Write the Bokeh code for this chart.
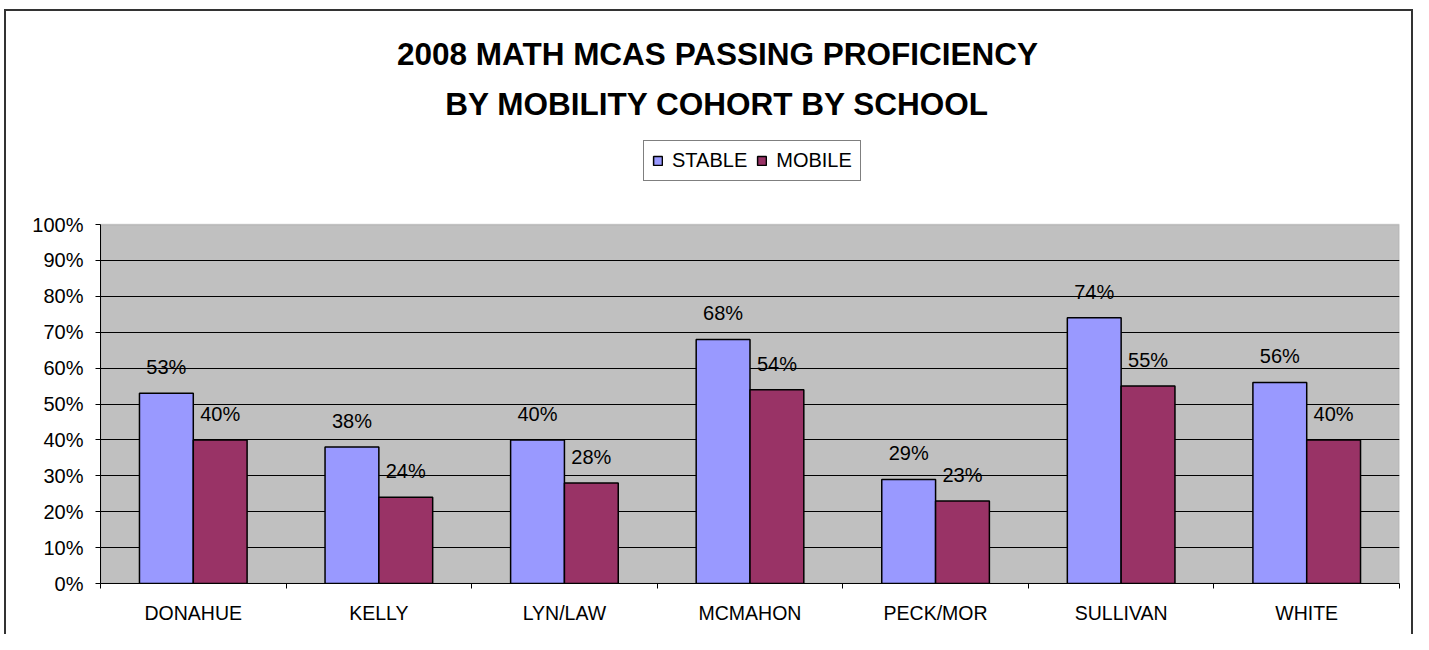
from bokeh.plotting import figure
from bokeh.models import (ColumnDataSource, FixedTicker, LabelSet, Label, Legend,
                          LegendItem, Range1d, BoxAnnotation)
from bokeh.core.properties import value
from bokeh.embed import file_html
from bokeh.resources import INLINE

schools = ["DONAHUE", "KELLY", "LYN/LAW", "MCMAHON", "PECK/MOR", "SULLIVAN", "WHITE"]
stable = [53, 38, 40, 68, 29, 74, 56]
mobile = [40, 24, 28, 54, 23, 55, 40]
y_ticks = [0, 10, 20, 30, 40, 50, 60, 70, 80, 90, 100]
series_names = ["STABLE", "MOBILE"]
title_lines = ["2008 MATH MCAS PASSING PROFICIENCY", "BY MOBILITY COHORT BY SCHOOL"]

FONT = "Liberation Sans"
BAR_W = 0.29
OFF = 0.145
Y_MAX = 100
FRAME_H = 583          # frame height in px (frame spans the whole canvas top)
PLOT_H = 359           # px taken by 0..100 %
Y_TOP = Y_MAX * FRAME_H / PLOT_H

centers = [i + 0.5 for i in range(len(schools))]
bounds = [float(i) for i in range(len(schools) + 1)]

src_s = ColumnDataSource(dict(x=[c - OFF for c in centers], top=stable,
                              label=[f"{v}%" for v in stable]))
src_m = ColumnDataSource(dict(x=[c + OFF for c in centers], top=mobile,
                              label=[f"{v}%" for v in mobile]))

p = figure(width=1413, height=634, x_range=Range1d(0, len(schools)),
           y_range=Range1d(0, Y_TOP), output_backend="svg", toolbar_location=None,
           min_border_left=100, min_border_right=14, min_border_top=0,
           min_border_bottom=51)
line = "linear-gradient(#333,#333)"
p.styles = {
    "background": (f"{line} left 4px top 9px / 2px 100% no-repeat, "
                   f"{line} left 4px top 9px / calc(100% - 6px) 2px no-repeat, "
                   f"{line} right 0px top 9px / 2px 100% no-repeat, white"),
}
p.border_fill_color = None
p.background_fill_color = None
p.outline_line_color = None

# gray plot area 0..100 %
p.add_layout(BoxAnnotation(bottom=0, top=Y_MAX, fill_color="#C0C0C0", fill_alpha=1,
                           line_color="#808080", line_width=1.5, level="image"))

p.xgrid.visible = False
p.ygrid.ticker = FixedTicker(ticks=y_ticks[1:-1])
p.ygrid.grid_line_color = "black"
p.ygrid.grid_line_width = 1

ya = p.yaxis[0]
ya.ticker = FixedTicker(ticks=y_ticks)
ya.bounds = (0, Y_MAX)
ya.major_label_overrides = {v: f"{v}%" for v in y_ticks}
ya.axis_line_color = "black"
ya.major_tick_line_color = "black"
ya.major_tick_out = 5
ya.major_tick_in = 0
ya.minor_tick_line_color = None
ya.major_label_standoff = 12
ya.major_label_text_font = FONT
ya.major_label_text_font_size = "20px"
ya.major_label_text_color = "black"

xa = p.xaxis[0]
xa.ticker = FixedTicker(ticks=centers, minor_ticks=bounds)
xa.major_label_overrides = {c: s for c, s in zip(centers, schools)}
xa.axis_line_color = "black"
xa.major_tick_line_color = None
xa.major_tick_out = 0
xa.major_tick_in = 0
xa.minor_tick_line_color = "black"
xa.minor_tick_out = 5
xa.minor_tick_in = 0
xa.major_label_standoff = 13
xa.major_label_text_font = FONT
xa.major_label_text_font_size = "19.5px"
xa.major_label_text_color = "black"

r_s = p.vbar(x="x", top="top", width=BAR_W, source=src_s, fill_color="#9999FF",
             line_color="black", line_width=1.5)
r_m = p.vbar(x="x", top="top", width=BAR_W, source=src_m, fill_color="#993366",
             line_color="black", line_width=1.5)

for src in (src_s, src_m):
    p.add_layout(LabelSet(x="x", y="top", text="label", source=src, y_offset=26,
                          text_align="center", text_baseline="middle",
                          text_font=value(FONT), text_font_size=value("20px"),
                          text_color="black"))

for txt, sy in zip(title_lines, [530, 480]):
    p.add_layout(Label(x=617, y=sy, x_units="screen", y_units="screen", text=txt,
                       text_align="center", text_baseline="middle", text_font=FONT,
                       text_font_size="31.5px", text_font_style="bold",
                       text_color="black"))

legend = Legend(items=[LegendItem(label=series_names[0], renderers=[r_s]),
                       LegendItem(label=series_names[1], renderers=[r_m])],
                orientation="horizontal", location=(543, 402), margin=0,
                padding=8, spacing=9, label_standoff=9, glyph_width=11,
                glyph_height=11, label_text_font=FONT, label_text_font_size="20px",
                label_text_color="black",
                border_line_color="black", border_line_width=1.5,
                background_fill_color="white", background_fill_alpha=1)
p.add_layout(legend)

open("out.html", "w").write(file_html(p, INLINE))
